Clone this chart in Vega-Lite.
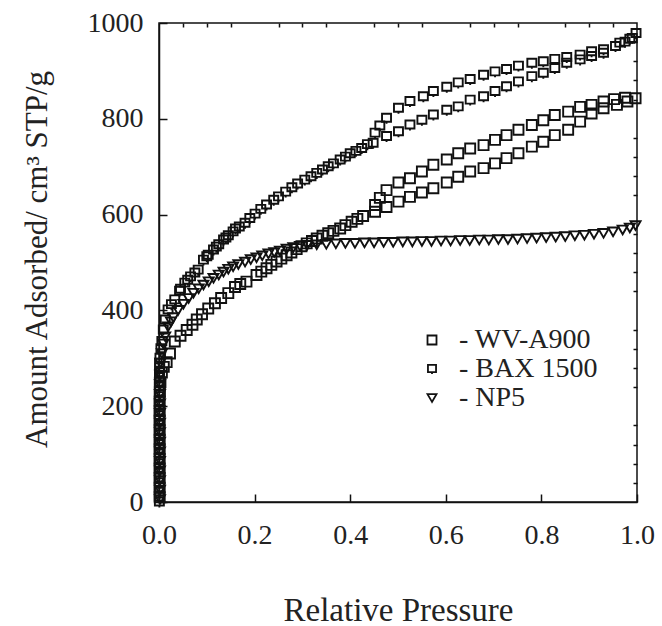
{
"$schema": "https://vega.github.io/schema/vega-lite/v6.json",
"width": 478, "height": 479,
"autosize": {"type": "none"},
"padding": {"left": 159, "top": 23, "right": 25, "bottom": 124},
"background": "white",
"config": {"view": {"stroke": "#111", "strokeWidth": 1.5}, "font": "Liberation Serif"},
"data": {"values": [
{"s":"BAX 1500","x":0.0008,"y":0},{"s":"BAX 1500","x":0.0008,"y":20},{"s":"BAX 1500","x":0.0008,"y":40},{"s":"BAX 1500","x":0.0008,"y":60},{"s":"BAX 1500","x":0.0008,"y":80},{"s":"BAX 1500","x":0.0008,"y":100},{"s":"BAX 1500","x":0.0008,"y":120},{"s":"BAX 1500","x":0.0008,"y":140},{"s":"BAX 1500","x":0.0008,"y":160},{"s":"BAX 1500","x":0.0008,"y":180},{"s":"BAX 1500","x":0.0008,"y":200},{"s":"BAX 1500","x":0.0008,"y":220},{"s":"BAX 1500","x":0.0008,"y":240},{"s":"BAX 1500","x":0.001,"y":260},{"s":"BAX 1500","x":0.0015,"y":280},
{"s":"BAX 1500","x":0.0005,"y":10},{"s":"BAX 1500","x":0.0005,"y":30},{"s":"BAX 1500","x":0.0005,"y":50},{"s":"BAX 1500","x":0.0005,"y":70},{"s":"BAX 1500","x":0.0005,"y":90},{"s":"BAX 1500","x":0.0005,"y":110},{"s":"BAX 1500","x":0.0005,"y":130},{"s":"BAX 1500","x":0.0005,"y":150},{"s":"BAX 1500","x":0.0005,"y":170},{"s":"BAX 1500","x":0.0005,"y":190},{"s":"BAX 1500","x":0.0005,"y":210},{"s":"BAX 1500","x":0.0005,"y":230},{"s":"BAX 1500","x":0.0007,"y":250},{"s":"BAX 1500","x":0.001,"y":270},{"s":"BAX 1500","x":0.0012,"y":290},
{"s":"BAX 1500","x":0.002,"y":300},{"s":"BAX 1500","x":0.004,"y":320},{"s":"BAX 1500","x":0.006,"y":335},{"s":"BAX 1500","x":0.009,"y":359},{"s":"BAX 1500","x":0.013,"y":380},{"s":"BAX 1500","x":0.019,"y":401},{"s":"BAX 1500","x":0.026,"y":412},{"s":"BAX 1500","x":0.033,"y":422},{"s":"BAX 1500","x":0.043,"y":440},{"s":"BAX 1500","x":0.054,"y":457},{"s":"BAX 1500","x":0.066,"y":470},{"s":"BAX 1500","x":0.082,"y":484},{"s":"BAX 1500","x":0.093,"y":505},{"s":"BAX 1500","x":0.103,"y":515},{"s":"BAX 1500","x":0.114,"y":526},{"s":"BAX 1500","x":0.125,"y":537},{"s":"BAX 1500","x":0.135,"y":547},{"s":"BAX 1500","x":0.145,"y":556},{"s":"BAX 1500","x":0.155,"y":564},{"s":"BAX 1500","x":0.168,"y":574},{"s":"BAX 1500","x":0.18,"y":582},{"s":"BAX 1500","x":0.201,"y":601},{"s":"BAX 1500","x":0.225,"y":620},{"s":"BAX 1500","x":0.25,"y":637},{"s":"BAX 1500","x":0.278,"y":656},{"s":"BAX 1500","x":0.305,"y":672},{"s":"BAX 1500","x":0.33,"y":686},{"s":"BAX 1500","x":0.354,"y":700},{"s":"BAX 1500","x":0.379,"y":714},{"s":"BAX 1500","x":0.4,"y":727},{"s":"BAX 1500","x":0.424,"y":738},{"s":"BAX 1500","x":0.448,"y":749},{"s":"BAX 1500","x":0.476,"y":763},{"s":"BAX 1500","x":0.501,"y":773},{"s":"BAX 1500","x":0.525,"y":787},{"s":"BAX 1500","x":0.55,"y":797},{"s":"BAX 1500","x":0.574,"y":808},{"s":"BAX 1500","x":0.602,"y":818},{"s":"BAX 1500","x":0.626,"y":825},{"s":"BAX 1500","x":0.651,"y":839},{"s":"BAX 1500","x":0.679,"y":846},{"s":"BAX 1500","x":0.703,"y":857},{"s":"BAX 1500","x":0.727,"y":867},{"s":"BAX 1500","x":0.752,"y":877},{"s":"BAX 1500","x":0.78,"y":888},{"s":"BAX 1500","x":0.804,"y":895},{"s":"BAX 1500","x":0.828,"y":905},{"s":"BAX 1500","x":0.853,"y":916},{"s":"BAX 1500","x":0.881,"y":923},{"s":"BAX 1500","x":0.905,"y":930},{"s":"BAX 1500","x":0.93,"y":937},{"s":"BAX 1500","x":0.955,"y":951},{"s":"BAX 1500","x":0.975,"y":960},{"s":"BAX 1500","x":0.99,"y":968},{"s":"BAX 1500","x":0.998,"y":978},
{"s":"BAX 1500","x":0.985,"y":966},{"s":"BAX 1500","x":0.964,"y":958},{"s":"BAX 1500","x":0.93,"y":944},{"s":"BAX 1500","x":0.905,"y":940},{"s":"BAX 1500","x":0.881,"y":933},{"s":"BAX 1500","x":0.853,"y":928},{"s":"BAX 1500","x":0.828,"y":924},{"s":"BAX 1500","x":0.804,"y":919},{"s":"BAX 1500","x":0.78,"y":916},{"s":"BAX 1500","x":0.752,"y":910},{"s":"BAX 1500","x":0.727,"y":903},{"s":"BAX 1500","x":0.703,"y":898},{"s":"BAX 1500","x":0.679,"y":891},{"s":"BAX 1500","x":0.651,"y":882},{"s":"BAX 1500","x":0.626,"y":875},{"s":"BAX 1500","x":0.602,"y":866},{"s":"BAX 1500","x":0.574,"y":857},{"s":"BAX 1500","x":0.553,"y":846},{"s":"BAX 1500","x":0.525,"y":836},{"s":"BAX 1500","x":0.501,"y":822},{"s":"BAX 1500","x":0.476,"y":801},{"s":"BAX 1500","x":0.462,"y":785},{"s":"BAX 1500","x":0.452,"y":770},{"s":"BAX 1500","x":0.436,"y":746},{"s":"BAX 1500","x":0.412,"y":732},{"s":"BAX 1500","x":0.39,"y":720},{"s":"BAX 1500","x":0.365,"y":706},{"s":"BAX 1500","x":0.342,"y":693},{"s":"BAX 1500","x":0.318,"y":679},{"s":"BAX 1500","x":0.29,"y":664},{"s":"BAX 1500","x":0.265,"y":647},{"s":"BAX 1500","x":0.24,"y":630},{"s":"BAX 1500","x":0.213,"y":611},{"s":"BAX 1500","x":0.19,"y":592},{"s":"BAX 1500","x":0.16,"y":570},{"s":"BAX 1500","x":0.14,"y":551},{"s":"BAX 1500","x":0.12,"y":532},{"s":"BAX 1500","x":0.1,"y":512},{"s":"BAX 1500","x":0.075,"y":478},{"s":"BAX 1500","x":0.06,"y":463},{"s":"BAX 1500","x":0.045,"y":444},
{"s":"WV-A900","x":0.0015,"y":10},{"s":"WV-A900","x":0.0015,"y":30},{"s":"WV-A900","x":0.0015,"y":50},{"s":"WV-A900","x":0.0015,"y":70},{"s":"WV-A900","x":0.0015,"y":90},{"s":"WV-A900","x":0.0015,"y":110},{"s":"WV-A900","x":0.0015,"y":130},{"s":"WV-A900","x":0.0015,"y":150},{"s":"WV-A900","x":0.0015,"y":170},{"s":"WV-A900","x":0.0015,"y":190},{"s":"WV-A900","x":0.0015,"y":210},{"s":"WV-A900","x":0.002,"y":230},
{"s":"WV-A900","x":0.003,"y":250},{"s":"WV-A900","x":0.006,"y":270},{"s":"WV-A900","x":0.01,"y":282},{"s":"WV-A900","x":0.016,"y":292},{"s":"WV-A900","x":0.023,"y":310},{"s":"WV-A900","x":0.033,"y":335},{"s":"WV-A900","x":0.045,"y":347},{"s":"WV-A900","x":0.058,"y":359},{"s":"WV-A900","x":0.07,"y":370},{"s":"WV-A900","x":0.079,"y":381},{"s":"WV-A900","x":0.09,"y":392},{"s":"WV-A900","x":0.103,"y":404},{"s":"WV-A900","x":0.117,"y":415},{"s":"WV-A900","x":0.13,"y":426},{"s":"WV-A900","x":0.145,"y":436},{"s":"WV-A900","x":0.159,"y":449},{"s":"WV-A900","x":0.17,"y":455},{"s":"WV-A900","x":0.183,"y":460},{"s":"WV-A900","x":0.204,"y":474},{"s":"WV-A900","x":0.225,"y":488},{"s":"WV-A900","x":0.246,"y":502},{"s":"WV-A900","x":0.267,"y":515},{"s":"WV-A900","x":0.288,"y":528},{"s":"WV-A900","x":0.309,"y":540},{"s":"WV-A900","x":0.33,"y":550},{"s":"WV-A900","x":0.354,"y":561},{"s":"WV-A900","x":0.379,"y":571},{"s":"WV-A900","x":0.403,"y":585},{"s":"WV-A900","x":0.427,"y":597},{"s":"WV-A900","x":0.452,"y":606},{"s":"WV-A900","x":0.476,"y":616},{"s":"WV-A900","x":0.501,"y":627},{"s":"WV-A900","x":0.525,"y":637},{"s":"WV-A900","x":0.55,"y":646},{"s":"WV-A900","x":0.574,"y":655},{"s":"WV-A900","x":0.602,"y":667},{"s":"WV-A900","x":0.626,"y":679},{"s":"WV-A900","x":0.651,"y":690},{"s":"WV-A900","x":0.679,"y":697},{"s":"WV-A900","x":0.703,"y":707},{"s":"WV-A900","x":0.727,"y":718},{"s":"WV-A900","x":0.752,"y":728},{"s":"WV-A900","x":0.78,"y":742},{"s":"WV-A900","x":0.804,"y":752},{"s":"WV-A900","x":0.828,"y":766},{"s":"WV-A900","x":0.856,"y":777},{"s":"WV-A900","x":0.881,"y":794},{"s":"WV-A900","x":0.905,"y":811},{"s":"WV-A900","x":0.93,"y":822},{"s":"WV-A900","x":0.958,"y":829},{"s":"WV-A900","x":0.98,"y":836},{"s":"WV-A900","x":0.997,"y":843},
{"s":"WV-A900","x":0.975,"y":844},{"s":"WV-A900","x":0.952,"y":841},{"s":"WV-A900","x":0.93,"y":836},{"s":"WV-A900","x":0.905,"y":829},{"s":"WV-A900","x":0.881,"y":825},{"s":"WV-A900","x":0.856,"y":815},{"s":"WV-A900","x":0.828,"y":808},{"s":"WV-A900","x":0.804,"y":797},{"s":"WV-A900","x":0.78,"y":787},{"s":"WV-A900","x":0.752,"y":777},{"s":"WV-A900","x":0.727,"y":766},{"s":"WV-A900","x":0.703,"y":756},{"s":"WV-A900","x":0.679,"y":745},{"s":"WV-A900","x":0.651,"y":738},{"s":"WV-A900","x":0.626,"y":728},{"s":"WV-A900","x":0.602,"y":715},{"s":"WV-A900","x":0.574,"y":704},{"s":"WV-A900","x":0.55,"y":690},{"s":"WV-A900","x":0.525,"y":676},{"s":"WV-A900","x":0.501,"y":667},{"s":"WV-A900","x":0.476,"y":651},{"s":"WV-A900","x":0.462,"y":635},{"s":"WV-A900","x":0.452,"y":620},{"s":"WV-A900","x":0.415,"y":591},{"s":"WV-A900","x":0.39,"y":578},{"s":"WV-A900","x":0.365,"y":566},{"s":"WV-A900","x":0.342,"y":556},{"s":"WV-A900","x":0.32,"y":545},{"s":"WV-A900","x":0.298,"y":534},{"s":"WV-A900","x":0.277,"y":521},{"s":"WV-A900","x":0.256,"y":508},{"s":"WV-A900","x":0.235,"y":495},{"s":"WV-A900","x":0.214,"y":481},
{"s":"NP5","x":0.002,"y":5},{"s":"NP5","x":0.002,"y":25},{"s":"NP5","x":0.002,"y":45},{"s":"NP5","x":0.002,"y":65},{"s":"NP5","x":0.002,"y":85},{"s":"NP5","x":0.002,"y":105},{"s":"NP5","x":0.002,"y":125},{"s":"NP5","x":0.002,"y":145},{"s":"NP5","x":0.002,"y":165},{"s":"NP5","x":0.002,"y":185},{"s":"NP5","x":0.002,"y":205},{"s":"NP5","x":0.002,"y":225},{"s":"NP5","x":0.002,"y":245},{"s":"NP5","x":0.0025,"y":265},
{"s":"NP5","x":0.003,"y":290},{"s":"NP5","x":0.006,"y":310},{"s":"NP5","x":0.009,"y":330},{"s":"NP5","x":0.013,"y":345},{"s":"NP5","x":0.019,"y":366},{"s":"NP5","x":0.025,"y":376},{"s":"NP5","x":0.03,"y":385},{"s":"NP5","x":0.04,"y":400},{"s":"NP5","x":0.051,"y":413},{"s":"NP5","x":0.062,"y":425},{"s":"NP5","x":0.072,"y":436},{"s":"NP5","x":0.083,"y":445},{"s":"NP5","x":0.093,"y":453},{"s":"NP5","x":0.104,"y":460},{"s":"NP5","x":0.114,"y":467},{"s":"NP5","x":0.125,"y":474},{"s":"NP5","x":0.135,"y":480},{"s":"NP5","x":0.145,"y":486},{"s":"NP5","x":0.155,"y":491},{"s":"NP5","x":0.166,"y":496},{"s":"NP5","x":0.18,"y":501},{"s":"NP5","x":0.192,"y":506},{"s":"NP5","x":0.204,"y":510},{"s":"NP5","x":0.216,"y":514},{"s":"NP5","x":0.229,"y":518},{"s":"NP5","x":0.241,"y":521},{"s":"NP5","x":0.253,"y":524},{"s":"NP5","x":0.267,"y":528},{"s":"NP5","x":0.281,"y":531},{"s":"NP5","x":0.295,"y":534},{"s":"NP5","x":0.31,"y":536},{"s":"NP5","x":0.33,"y":537},{"s":"NP5","x":0.35,"y":538},{"s":"NP5","x":0.37,"y":539},{"s":"NP5","x":0.39,"y":540},{"s":"NP5","x":0.41,"y":540},{"s":"NP5","x":0.43,"y":541},{"s":"NP5","x":0.45,"y":541},{"s":"NP5","x":0.47,"y":542},{"s":"NP5","x":0.49,"y":542},{"s":"NP5","x":0.51,"y":543},{"s":"NP5","x":0.53,"y":543},{"s":"NP5","x":0.55,"y":544},{"s":"NP5","x":0.57,"y":544},{"s":"NP5","x":0.59,"y":545},{"s":"NP5","x":0.61,"y":545},{"s":"NP5","x":0.63,"y":546},{"s":"NP5","x":0.65,"y":546},{"s":"NP5","x":0.67,"y":547},{"s":"NP5","x":0.69,"y":547},{"s":"NP5","x":0.71,"y":548},{"s":"NP5","x":0.73,"y":548},{"s":"NP5","x":0.75,"y":549},{"s":"NP5","x":0.77,"y":550},{"s":"NP5","x":0.79,"y":551},{"s":"NP5","x":0.81,"y":552},{"s":"NP5","x":0.83,"y":553},{"s":"NP5","x":0.85,"y":554},{"s":"NP5","x":0.87,"y":556},{"s":"NP5","x":0.89,"y":557},{"s":"NP5","x":0.91,"y":559},{"s":"NP5","x":0.93,"y":561},{"s":"NP5","x":0.95,"y":564},{"s":"NP5","x":0.97,"y":568},{"s":"NP5","x":0.985,"y":572},{"s":"NP5","x":0.997,"y":577}
]},
"resolve": {"axis": {"x": "independent", "y": "independent"}},
"layer": [
{
"mark": {"type": "point", "filled": false, "stroke": "#111", "strokeWidth": 1.9, "size": 100, "opacity": 1},
"encoding": {
"x": {"field": "x", "type": "quantitative", "scale": {"domain": [0, 1], "nice": false, "zero": false},
"axis": {"values": [0, 0.2, 0.4, 0.6, 0.8, 1.0], "format": ".1f", "tickSize": -8, "tickWidth": 1.5, "tickColor": "#111", "domainColor": "#111", "domainWidth": 1.5, "grid": false,
"labelFont": "Liberation Serif", "labelFontSize": 28, "labelColor": "#222", "labelPadding": 49, "labelBaseline": "alphabetic", "labelFlush": false,
"title": "Relative Pressure", "titleFont": "Liberation Serif", "titleFontSize": 33, "titleFontWeight": "normal", "titleColor": "#222", "titleBaseline": "alphabetic", "titleY": 118}},
"y": {"field": "y", "type": "quantitative", "scale": {"domain": [0, 1000], "nice": false},
"axis": {"values": [0, 200, 400, 600, 800, 1000], "format": "d", "tickSize": -8, "tickWidth": 1.5, "tickColor": "#111", "domainColor": "#111", "domainWidth": 1.5, "grid": false,
"labelFont": "Liberation Serif", "labelFontSize": 28, "labelColor": "#222", "labelPadding": 24, "labelFlush": false,
"title": "Amount Adsorbed/ cm³ STP/g", "titleFont": "Liberation Serif", "titleFontSize": 31, "titleFontWeight": "normal", "titleColor": "#222", "titleAngle": -90, "titleBaseline": "alphabetic", "titleAlign": "center", "titleX": -113, "titleY": 236}},
"shape": {"field": "s", "type": "nominal",
"scale": {"domain": ["WV-A900", "BAX 1500", "NP5"], "range": ["square", "M-0.9,-0.9L0.9,-0.9L0.9,0.7L-0.9,0.7Z M0,0.7L0,1.1", "triangle-down"]},
"legend": {"orient": "none", "legendX": 259, "legendY": 303, "title": null, "padding": 0, "labelFont": "Liberation Serif", "labelFontSize": 28, "labelColor": "#222", "labelOffset": 13, "rowPadding": 1, "symbolSize": 81, "symbolStrokeWidth": 1.8, "symbolStrokeColor": "#111", "symbolFillColor": "white", "labelExpr": "'- ' + datum.label"}}
}
},
{
"mark": {"type": "point", "opacity": 0},
"encoding": {
"x": {"field": "x", "type": "quantitative", "axis": {"values": [0.05, 0.1, 0.15, 0.25, 0.3, 0.35, 0.45, 0.5, 0.55, 0.65, 0.7, 0.75, 0.85, 0.9, 0.95], "tickSize": -4, "tickWidth": 1.5, "tickColor": "#111", "labels": false, "domain": false, "grid": false, "title": null}},
"y": {"field": "y", "type": "quantitative", "axis": {"values": [40, 80, 120, 160, 240, 280, 320, 360, 440, 480, 520, 560, 640, 680, 720, 760, 840, 880, 920, 960], "tickSize": -4, "tickWidth": 1.5, "tickColor": "#111", "labels": false, "domain": false, "grid": false, "title": null}}
}
}
]
}
